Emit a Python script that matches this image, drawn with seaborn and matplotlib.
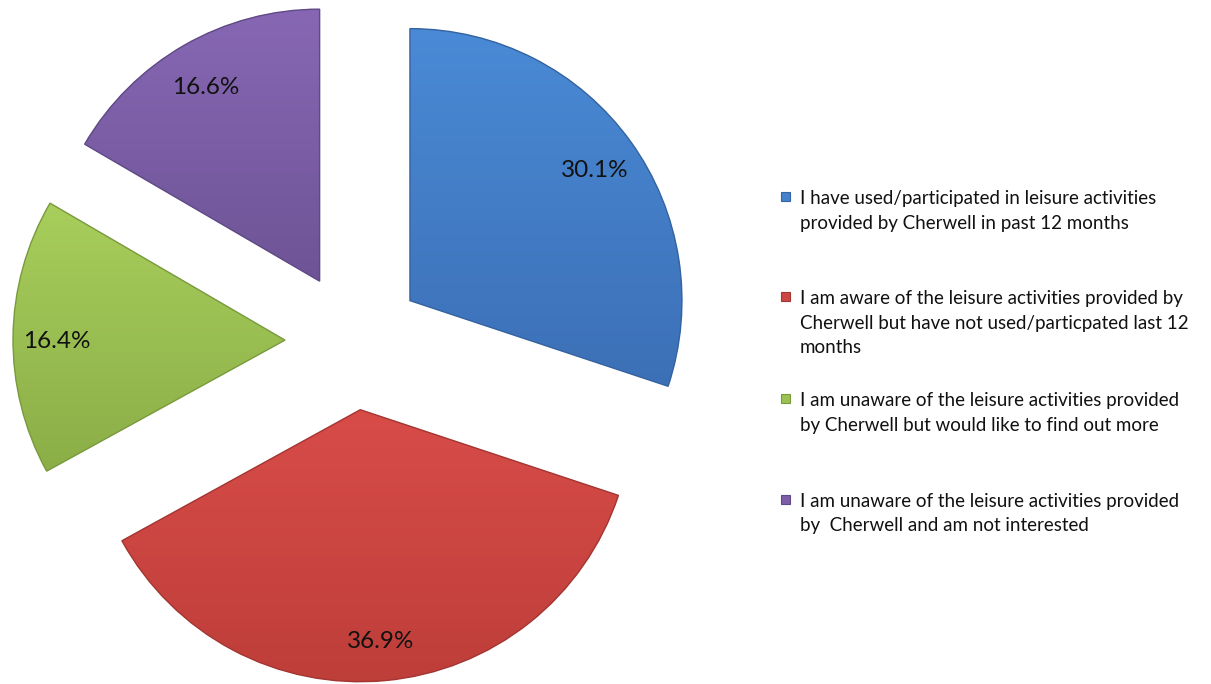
import matplotlib
matplotlib.use("Agg")
import numpy as np
import matplotlib.pyplot as plt
import matplotlib.patches as mpatches
from matplotlib.colors import LinearSegmentedColormap
import seaborn as sns

# Survey responses on awareness of leisure activities
categories = [
    "I have used/participated in leisure activities\nprovided by Cherwell in past 12 months",
    "I am aware of the leisure activities provided by\nCherwell but have not used/particpated last 12\nmonths",
    "I am unaware of the leisure activities provided\nby Cherwell but would like to find out more",
    "I am unaware of the leisure activities provided\nby  Cherwell and am not interested",
]
shares = [30.1, 36.9, 16.4, 16.6]
colors = ["#4480CC", "#CC4642", "#9CC252", "#7D5EA8"]
top_colors = ["#4A8AD6", "#D84C48", "#A8CE5C", "#8767B4"]
bottom_colors = ["#3C70B6", "#BE3E3A", "#8BAE47", "#6E5496"]
edges = ["#35639F", "#A33632", "#7A9A3E", "#5F4A84"]

sns.set_theme(style="white")
plt.rcParams["font.family"] = ["Lato", "DejaVu Sans"]

W, H = 1211, 684
fig = plt.figure(figsize=(W / 100, H / 100), dpi=100)
ax = fig.add_axes([0, 0, 1, 1])

radius = 272
wedges, texts, autotexts = ax.pie(
    shares,
    colors=colors,
    startangle=90,
    counterclock=False,
    center=(354, H - 341),
    radius=radius,
    explode=[69] * len(shares),
    autopct="%.1f%%",
    pctdistance=0.84,
    frame=True,
    wedgeprops=dict(linewidth=0),
    textprops=dict(fontsize=17.5, color="#111111", zorder=5),
)

# Vertical shading inside each slice plus a thin outline
for w, c_top, c_bot, ec in zip(wedges, top_colors, bottom_colors, edges):
    ext = w.get_path().get_extents()
    x0, y0, x1, y1 = ext.x0, ext.y0, ext.x1, ext.y1
    cmap = LinearSegmentedColormap.from_list("shade", [c_bot, c_top])
    grad = np.linspace(0, 1, 256).reshape(-1, 1)
    im = ax.imshow(grad, cmap=cmap, origin="lower", aspect="auto",
                   extent=(x0, x1, y0, y1), zorder=2, interpolation="bilinear")
    im.set_clip_path(w)
    ax.add_patch(mpatches.PathPatch(w.get_path(), transform=w.get_transform(),
                                    fill=False, edgecolor=ec, lw=1.0, zorder=3))

for t in autotexts:
    x, y = t.get_position()
    t.set_position((x, y - 4))

ax.set_xlim(0, W)
ax.set_ylim(0, H)
ax.set_aspect("equal")
ax.axis("off")

# Legend: square key aligned with the first line of each entry
key_x = 785
text_x = 800
line_step = 24.5
baselines = [204, 304, 406, 507]
for label, col, ec, b in zip(categories, colors, edges, baselines):
    ax.add_patch(mpatches.Rectangle((key_x - 4.5, H - b + 3), 9, 9,
                                    facecolor=col, edgecolor=ec, lw=0.8, zorder=4))
    for i, line in enumerate(label.split("\n")):
        ax.text(text_x, H - b - i * line_step, line, fontsize=13.5,
                color="#111111", ha="left", va="baseline", zorder=5)

fig.savefig("out.png", dpi=100, facecolor="white")
